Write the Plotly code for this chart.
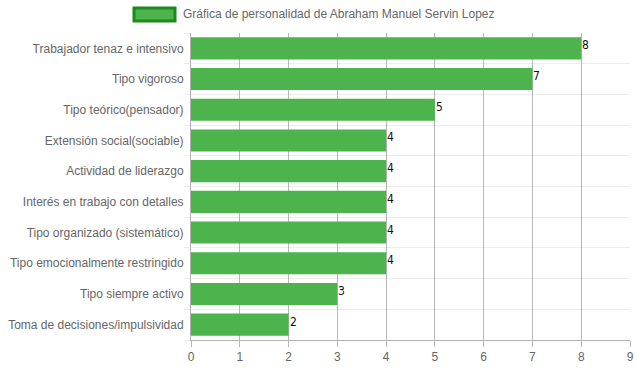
import plotly.graph_objects as go

categories = [
    "Trabajador tenaz e intensivo",
    "Tipo vigoroso",
    "Tipo teórico(pensador)",
    "Extensión social(sociable)",
    "Actividad de liderazgo",
    "Interés en trabajo con detalles",
    "Tipo organizado (sistemático)",
    "Tipo emocionalmente restringido",
    "Tipo siempre activo",
    "Toma de decisiones/impulsividad",
]
values = [8, 7, 5, 4, 4, 4, 4, 4, 3, 2]
x_ticks = list(range(0, 10))
series_name = "Gráfica de personalidad de Abraham Manuel Servin Lopez"

positions = list(range(len(categories)))

fig = go.Figure()
fig.add_trace(go.Bar(
    x=values,
    y=positions,
    orientation="h",
    name=series_name,
    marker=dict(color="#4db34d", line=dict(width=0)),
    showlegend=False,
    hoverinfo="x+y",
))

for v, p in zip(values, positions):
    fig.add_annotation(x=v, y=p, xref="x", yref="y", text=str(v),
                       showarrow=False, xanchor="left", yanchor="middle",
                       xshift=-1, yshift=3,
                       font=dict(family="Liberation Sans Narrow, DejaVu Sans Condensed, Liberation Sans",
                                 size=12, color="#111"))

fig.update_layout(
    width=637, height=371,
    margin=dict(l=191, r=7, t=33, b=31, autoexpand=False),
    plot_bgcolor="white", paper_bgcolor="white",
    bargap=0.28,
    font=dict(family="Liberation Sans, Arial", size=12, color="#666"),
)
fig.update_xaxes(
    range=[0, 9], tickvals=x_ticks, showgrid=True, automargin=False,
    gridcolor="rgba(0,0,0,0.28)", gridwidth=1,
    showline=True, linecolor="rgba(0,0,0,0.3)", linewidth=1,
    ticks="outside", ticklen=6, tickcolor="rgba(0,0,0,0.28)",
    zeroline=False, layer="above traces",
    tickfont=dict(size=12, color="#666"),
)
fig.update_yaxes(
    range=[len(categories) - 0.5, -0.5], automargin=False,
    tickmode="array", tickvals=positions, ticktext=categories,
    showgrid=False, ticks="", ticklen=0,
    minor=dict(tickmode="linear", tick0=0.5, dtick=1, showgrid=True,
               gridcolor="rgba(0,0,0,0.07)", ticks="outside", ticklen=6,
               tickcolor="rgba(0,0,0,0.07)"),
    showline=True, linecolor="rgba(0,0,0,0.3)", linewidth=1,
    zeroline=False, ticklabelstandoff=4,
    tickfont=dict(size=12, color="#666"),
)

# legend box (Chart.js style)
fig.add_shape(type="rect", xref="paper", yref="paper",
              x0=(134 - 191) / 439, x1=(175 - 191) / 439,
              y0=(340 - 21) / 307, y1=(340 - 8) / 307,
              fillcolor="#4db34d", line=dict(color="#1a8a1a", width=3))
fig.add_annotation(xref="paper", yref="paper",
                   x=(181 - 191) / 439, y=(340 - 14.5) / 307,
                   xanchor="left", yanchor="middle", showarrow=False,
                   text=series_name, font=dict(size=12, color="#666"))

fig.write_html("out.html", config={"displayModeBar": False},
               post_script="document.body.style.margin='0';document.body.style.padding='0';")
